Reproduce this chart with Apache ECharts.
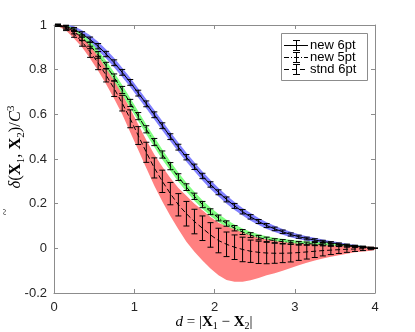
<!DOCTYPE html>
<html>
<head>
<meta charset="utf-8">
<script src="https://cdn.jsdelivr.net/npm/echarts@6/dist/echarts.min.js"></script>
<style>
html, body { margin: 0; padding: 0; background: #fff; }
#chart { width: 415px; height: 332px; }
</style>
</head>
<body>
<div id="chart"></div>
<script>
// sample distances
const xs = [0.05, 0.15, 0.25, 0.35, 0.45, 0.55, 0.65, 0.75, 0.85, 0.95,
  1.05, 1.15, 1.25, 1.35, 1.45, 1.55, 1.65, 1.75, 1.85, 1.95,
  2.05, 2.15, 2.25, 2.35, 2.45, 2.55, 2.65, 2.75, 2.85, 2.95,
  3.05, 3.15, 3.25, 3.35, 3.45, 3.55, 3.65, 3.75, 3.85, 3.95, 4.0]

// new 6pt
const new6 = [0.999, 0.993, 0.980, 0.960, 0.935, 0.905, 0.870, 0.831, 0.788, 0.743,
  0.695, 0.647, 0.598, 0.549, 0.500, 0.453, 0.408, 0.365, 0.324, 0.286,
  0.251, 0.219, 0.190, 0.164, 0.141, 0.120, 0.102, 0.087, 0.074, 0.062,
  0.052, 0.044, 0.037, 0.031, 0.025, 0.020, 0.015, 0.011, 0.007, 0.003, 0]
const new6Err = [0.003, 0.006, 0.009, 0.010, 0.011, 0.012, 0.012, 0.013, 0.013, 0.013,
  0.013, 0.013, 0.013, 0.013, 0.013, 0.013, 0.012, 0.012, 0.012, 0.012,
  0.011, 0.011, 0.011, 0.010, 0.010, 0.009, 0.009, 0.008, 0.008, 0.007,
  0.007, 0.006, 0.006, 0.005, 0.005, 0.004, 0.004, 0.003, 0.003, 0.002, 0]
const new6Band = [0.004, 0.010, 0.014, 0.017, 0.019, 0.020, 0.020, 0.021, 0.021, 0.021,
  0.021, 0.021, 0.021, 0.021, 0.021, 0.021, 0.020, 0.020, 0.020, 0.020,
  0.019, 0.019, 0.018, 0.017, 0.017, 0.016, 0.015, 0.014, 0.013, 0.012,
  0.011, 0.010, 0.010, 0.009, 0.008, 0.007, 0.006, 0.005, 0.004, 0.003, 0.002]

// new 5pt
const new5 = [0.999, 0.989, 0.971, 0.943, 0.908, 0.866, 0.818, 0.765, 0.709, 0.651,
  0.592, 0.533, 0.476, 0.420, 0.368, 0.319, 0.274, 0.233, 0.196, 0.164,
  0.136, 0.111, 0.090, 0.073, 0.059, 0.048, 0.040, 0.034, 0.030, 0.026,
  0.023, 0.021, 0.019, 0.017, 0.015, 0.013, 0.010, 0.008, 0.005, 0.002, 0]
const new5Err = [0.004, 0.008, 0.011, 0.013, 0.014, 0.015, 0.015, 0.016, 0.016, 0.016,
  0.016, 0.016, 0.016, 0.016, 0.016, 0.015, 0.015, 0.014, 0.014, 0.013,
  0.013, 0.012, 0.012, 0.011, 0.011, 0.010, 0.010, 0.009, 0.009, 0.008,
  0.008, 0.007, 0.007, 0.006, 0.006, 0.005, 0.005, 0.004, 0.003, 0.002, 0]
const new5Band = [0.005, 0.011, 0.015, 0.018, 0.020, 0.021, 0.022, 0.022, 0.022, 0.022,
  0.022, 0.022, 0.022, 0.022, 0.021, 0.021, 0.020, 0.020, 0.019, 0.019,
  0.018, 0.017, 0.017, 0.016, 0.015, 0.015, 0.014, 0.013, 0.013, 0.012,
  0.011, 0.011, 0.010, 0.009, 0.009, 0.008, 0.007, 0.006, 0.005, 0.004, 0.003]

// stnd 6pt
const stnd6 = [0.999, 0.985, 0.960, 0.925, 0.880, 0.830, 0.775, 0.715, 0.650, 0.580,
  0.505, 0.430, 0.360, 0.300, 0.245, 0.195, 0.155, 0.120, 0.090, 0.060,
  0.035, 0.018, 0.005, -0.005, -0.013, -0.018, -0.021, -0.022, -0.022, -0.021,
  -0.019, -0.016, -0.013, -0.010, -0.008, -0.006, -0.004, -0.003, -0.002, -0.001, 0]
const stnd6Err = [0.005, 0.010, 0.015, 0.020, 0.025, 0.030, 0.030, 0.035, 0.035, 0.040,
  0.040, 0.045, 0.045, 0.050, 0.050, 0.050, 0.055, 0.055, 0.055, 0.055,
  0.055, 0.055, 0.055, 0.055, 0.050, 0.050, 0.048, 0.045, 0.042, 0.040,
  0.035, 0.032, 0.028, 0.024, 0.020, 0.017, 0.014, 0.011, 0.008, 0.005, 0]
const stnd6BandUp = [0.005, 0.010, 0.015, 0.020, 0.025, 0.030, 0.030, 0.035, 0.040, 0.045,
  0.050, 0.055, 0.060, 0.065, 0.070, 0.075, 0.080, 0.080, 0.080, 0.080,
  0.080, 0.080, 0.080, 0.075, 0.070, 0.065, 0.060, 0.055, 0.050, 0.045,
  0.040, 0.035, 0.030, 0.025, 0.020, 0.018, 0.015, 0.012, 0.010, 0.008, 0.006]
const stnd6BandDown = [0.005, 0.010, 0.020, 0.025, 0.030, 0.035, 0.040, 0.045, 0.050, 0.060,
  0.065, 0.070, 0.080, 0.090, 0.100, 0.110, 0.125, 0.135, 0.145, 0.150,
  0.155, 0.160, 0.155, 0.145, 0.130, 0.115, 0.100, 0.090, 0.078, 0.067,
  0.057, 0.049, 0.042, 0.036, 0.030, 0.025, 0.020, 0.015, 0.012, 0.010, 0.006]

const legendNames = ['new 6pt', 'new 5pt', 'stnd 6pt']

const axisGray = '#8c8c8c'
const labelColor = '#262626'
const dashes = [null, [5, 2, 1, 2], [5, 3]]

const chart = echarts.init(document.getElementById('chart'))

const bandSeries = (means, up, down, color) => ({
  type: 'custom',
  clip: true,
  silent: true,
  data: [[xs[0], means[0]]],
  renderItem: function (params, api) {
    const points = []
    for (let i = 0; i < xs.length; i++) {
      points.push(api.coord([xs[i], means[i] + up[i]]))
    }
    for (let i = xs.length - 1; i >= 0; i--) {
      points.push(api.coord([xs[i], means[i] - down[i]]))
    }
    return { type: 'polygon', shape: { points }, style: { fill: color, stroke: null } }
  },
  z: 1
})

const errorSeries = (means, errs) => ({
  type: 'custom',
  silent: true,
  data: xs.map((x, i) => [x, means[i] - errs[i], means[i] + errs[i]]),
  encode: { x: 0, y: [1, 2] },
  renderItem: function (params, api) {
    const lo = api.coord([api.value(0), api.value(1)])
    const hi = api.coord([api.value(0), api.value(2)])
    const w = 3
    const st = { stroke: '#000', lineWidth: 1 }
    return {
      type: 'group',
      children: [
        { type: 'line', shape: { x1: hi[0], y1: hi[1], x2: lo[0], y2: lo[1] }, style: st },
        { type: 'line', shape: { x1: hi[0] - w, y1: hi[1], x2: hi[0] + w, y2: hi[1] }, style: st },
        { type: 'line', shape: { x1: lo[0] - w, y1: lo[1], x2: lo[0] + w, y2: lo[1] }, style: st }
      ]
    }
  },
  z: 3
})

const lineSeries = (means, dash) => ({
  type: 'line',
  data: xs.map((x, i) => [x, means[i]]),
  showSymbol: false,
  silent: true,
  lineStyle: { color: '#000', width: 1, type: dash || 'solid' },
  z: 2
})

// legend drawn by hand so each row carries the errorbar glyph
const legendGraphics = [{
  type: 'rect',
  shape: { x: 281.5, y: 33.5, width: 86, height: 47 },
  style: { fill: '#fff', stroke: axisGray, lineWidth: 1 },
  z: 10
}]
legendNames.forEach((name, k) => {
  const y = 45.5 + k * 12
  legendGraphics.push(
    { type: 'line', shape: { x1: 284, y1: y, x2: 308, y2: y }, style: { stroke: '#000', lineWidth: 1, lineDash: dashes[k] }, z: 11 },
    { type: 'line', shape: { x1: 296.5, y1: y - 5, x2: 296.5, y2: y + 5 }, style: { stroke: '#000', lineWidth: 1 }, z: 11 },
    { type: 'line', shape: { x1: 293, y1: y - 5, x2: 300, y2: y - 5 }, style: { stroke: '#000', lineWidth: 1 }, z: 11 },
    { type: 'line', shape: { x1: 293, y1: y + 5, x2: 300, y2: y + 5 }, style: { stroke: '#000', lineWidth: 1 }, z: 11 },
    { type: 'text', x: 310, y: y, style: { text: name, fill: '#000', font: '13px "Liberation Sans", Arial, sans-serif', verticalAlign: 'middle' }, z: 11 }
  )
})

const serif = '"Liberation Serif", "DejaVu Serif", serif'
const mathStyles = size => ({
  t: { fontFamily: serif, fontSize: size, color: labelColor, lineHeight: size + 4 },
  d: { fontFamily: serif, fontSize: size, fontStyle: 'italic', color: labelColor, lineHeight: size + 4 },
  i: { fontFamily: serif, fontSize: size, fontStyle: 'italic', color: labelColor, lineHeight: size + 4 },
  b: { fontFamily: serif, fontSize: size, fontWeight: 'bold', color: labelColor, lineHeight: size + 4 },
  s: { fontFamily: serif, fontSize: Math.round(size * 0.65), color: labelColor, verticalAlign: 'bottom', lineHeight: size },
  p: { fontFamily: serif, fontSize: Math.round(size * 0.65), color: labelColor, verticalAlign: 'top', lineHeight: size }
})

const option = {
  animation: false,
  backgroundColor: '#fff',
  grid: { left: 54, right: 40, top: 25, bottom: 39 },
  xAxis: [{
    type: 'value', min: 0, max: 4, interval: 1,
    axisLine: { show: true, onZero: false, lineStyle: { color: axisGray } },
    axisTick: { inside: true, length: 4, lineStyle: { color: axisGray } },
    axisLabel: { color: labelColor, fontSize: 13, fontFamily: 'Liberation Sans, Arial, sans-serif', margin: 8 },
    splitLine: { show: false }
  }, {
    type: 'value', min: 0, max: 4, interval: 1, position: 'top',
    axisLine: { show: true, onZero: false, lineStyle: { color: axisGray } },
    axisTick: { inside: true, length: 4, lineStyle: { color: axisGray } },
    axisLabel: { show: false },
    splitLine: { show: false }
  }],
  yAxis: [{
    type: 'value', min: -0.2, max: 1, interval: 0.2,
    axisLine: { show: true, onZero: false, lineStyle: { color: axisGray } },
    axisTick: { inside: true, length: 4, lineStyle: { color: axisGray } },
    axisLabel: {
      color: labelColor, fontSize: 13, fontFamily: 'Liberation Sans, Arial, sans-serif', margin: 7,
      formatter: v => String(+v.toFixed(1))
    },
    splitLine: { show: false }
  }, {
    type: 'value', min: -0.2, max: 1, interval: 0.2, position: 'right',
    axisLine: { show: true, onZero: false, lineStyle: { color: axisGray } },
    axisTick: { inside: true, length: 4, lineStyle: { color: axisGray } },
    axisLabel: { show: false },
    splitLine: { show: false }
  }],
  graphic: [
    {
      type: 'text', x: 214, y: 322,
      style: {
        text: '{i|d}{t| = |}{b|X}{s|1}{t| − }{b|X}{s|2}{t||}',
        rich: mathStyles(15), align: 'center', verticalAlign: 'middle'
      }
    },
    {
      type: 'group', x: 16, y: 147, rotation: Math.PI / 2,
      children: [
        {
          type: 'text', x: 0, y: 0,
          style: {
            text: '{d|δ}{t|(}{b|X}{s|1}{t|, }{b|X}{s|2}{t|)/}{i|C}{p|3}',
            rich: mathStyles(16.5), align: 'center', verticalAlign: 'middle'
          }
        },
        {
          // tilde accent over the delta
          type: 'text', x: -65, y: -10,
          style: { text: '~', font: '12px "Liberation Serif", serif', fill: labelColor, align: 'center', verticalAlign: 'middle' }
        }
      ]
    }
  ].concat(legendGraphics),
  series: [
    bandSeries(new6, new6Band, new6Band, '#8080ff'),
    bandSeries(new5, new5Band, new5Band, '#80ff80'),
    bandSeries(stnd6, stnd6BandUp, stnd6BandDown, '#ff8080'),
    lineSeries(new6, dashes[0]),
    lineSeries(new5, dashes[1]),
    lineSeries(stnd6, dashes[2]),
    errorSeries(new6, new6Err),
    errorSeries(new5, new5Err),
    errorSeries(stnd6, stnd6Err)
  ]
}

chart.setOption(option)
</script>
</body>
</html>
